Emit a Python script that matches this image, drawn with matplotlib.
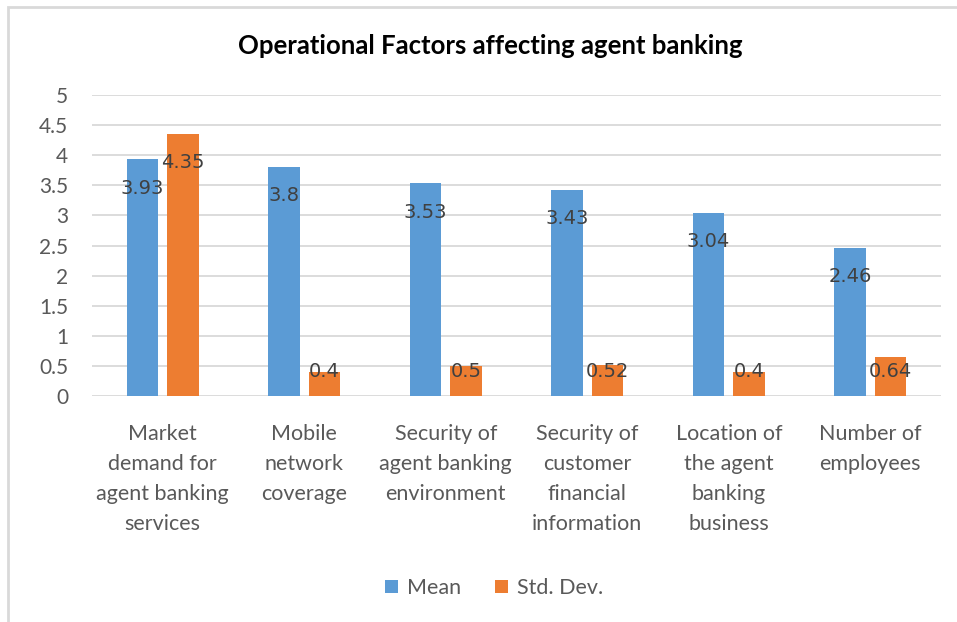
import matplotlib.pyplot as plt
import numpy as np
from matplotlib.patches import Rectangle

# chart data
categories = [
    "Market\ndemand for\nagent banking\nservices",
    "Mobile\nnetwork\ncoverage",
    "Security of\nagent banking\nenvironment",
    "Security of\ncustomer\nfinancial\ninformation",
    "Location of\nthe agent\nbanking\nbusiness",
    "Number of\nemployees",
]
mean = [3.93, 3.8, 3.53, 3.43, 3.04, 2.46]
std_dev = [4.35, 0.4, 0.5, 0.52, 0.4, 0.64]
yticks = [0, 0.5, 1, 1.5, 2, 2.5, 3, 3.5, 4, 4.5, 5]

BLUE = "#5B9BD5"
ORANGE = "#ED7D31"
TEXT = "#595959"
GRID = "#D9D9D9"

plt.rcParams["font.family"] = ["Lato", "DejaVu Sans"]

fig = plt.figure(figsize=(9.57, 6.22), dpi=100)
ax = fig.add_axes([0.0961, 0.3633, 0.8872, 0.4840])

x = np.arange(len(categories))
w = 0.22
off = 0.143
b1 = ax.bar(x - off, mean, w, color=BLUE, label="Mean", zorder=2)
b2 = ax.bar(x + off, std_dev, w, color=ORANGE, label="Std. Dev.", zorder=2)

# value labels sit just inside the top of each bar
for bars, vals in ((b1, mean), (b2, std_dev)):
    for rect, v in zip(bars, vals):
        ypos = max(v - 0.475, 0.4)
        ax.text(rect.get_x() + rect.get_width() / 2, ypos, f"{v:g}",
                ha="center", va="center", fontsize=14, color="#404040",
                family=["DejaVu Sans"], zorder=3)

ax.set_xlim(-0.5, len(categories) - 0.5)
ax.set_ylim(0, 5)
ax.set_yticks(yticks)
ax.set_yticklabels([f"{t:g}" for t in yticks])
ax.tick_params(axis="y", length=0, pad=17, labelsize=15, labelcolor=TEXT)
ax.tick_params(axis="x", length=0)
ax.set_xticks([])
ax.yaxis.grid(True, color=GRID, linewidth=1.3, zorder=0)
for s in ax.spines.values():
    s.set_visible(False)

for xi, lab in zip(x, categories):
    ax.text(xi, -0.47, lab, ha="center", va="top", fontsize=15.5,
            color=TEXT, linespacing=1.62)

fig.text(490 / 957, 1 - 46 / 622, "Operational Factors affecting agent banking",
         ha="center", va="center", fontsize=18.5, fontweight="bold", color="black")

fig.legend(handles=[b1, b2], loc="center", bbox_to_anchor=(494 / 957, 1 - 588 / 622),
           ncol=2, frameon=False, fontsize=15.5, labelcolor=TEXT,
           handlelength=0.6, handleheight=0.6, handletextpad=0.4, columnspacing=1.6)

# light frame around the chart area
fig.patches.append(Rectangle((8 / 957, -0.02), 1.0, 1 - 7 / 622 + 0.02,
                             transform=fig.transFigure, fill=False,
                             edgecolor=GRID, linewidth=2))

fig.savefig("out.png", dpi=100)
